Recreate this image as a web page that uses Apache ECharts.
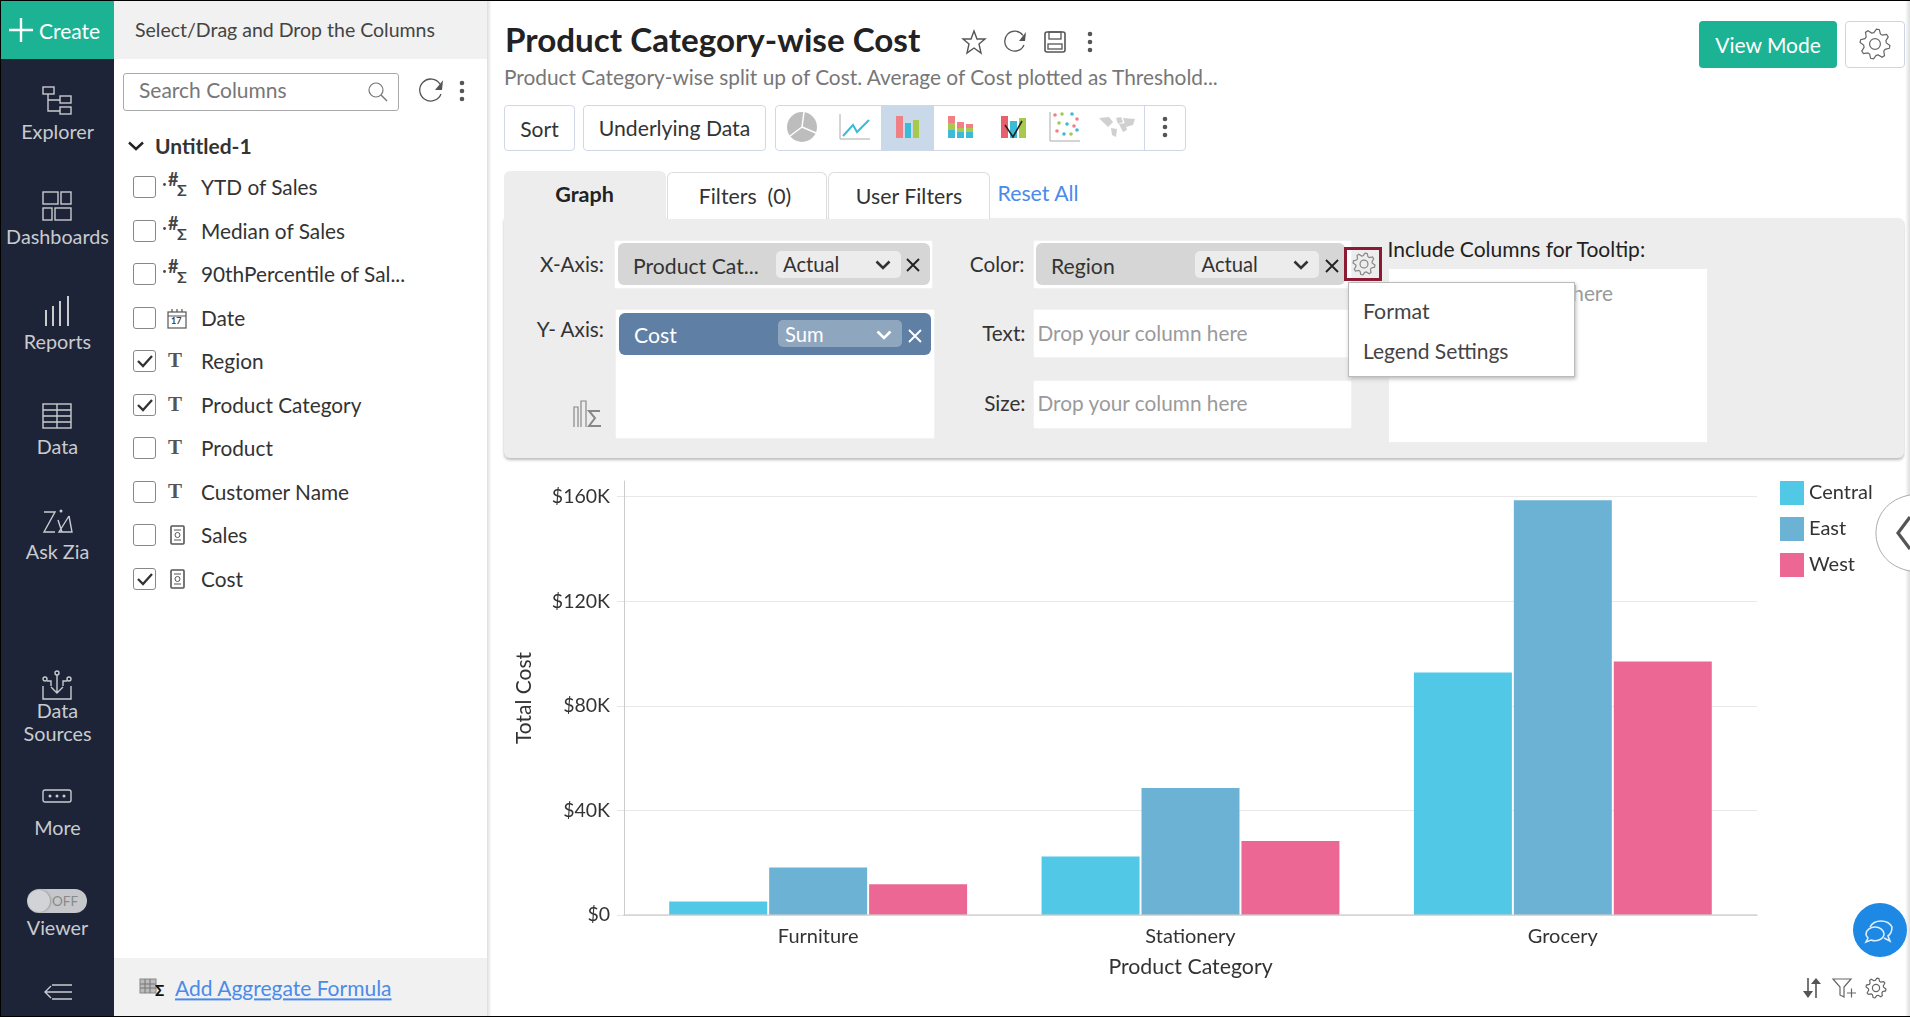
<!DOCTYPE html>
<html><head><meta charset="utf-8">
<script src="https://cdn.jsdelivr.net/npm/echarts@6/dist/echarts.min.js"></script>
<style>
html,body{margin:0;padding:0;width:1910px;height:1017px;overflow:hidden;background:#fff;font-family:Lato,sans-serif}
#ui,#ui2{position:absolute;left:0;top:0;width:1910px;height:1017px;pointer-events:none}
#ui2{z-index:5}
.b{position:absolute;box-sizing:border-box}
.t{position:absolute;white-space:nowrap;transform:translateY(-50%);line-height:1.2}
svg{position:absolute;overflow:visible}
#chart{position:absolute;left:490px;top:460px;width:1420px;height:557px;z-index:2}
</style></head><body>
<div id="ui"></div><div id="chart"></div><div id="ui2"></div>
<script>
// ---- chart data ----
const categories = ['Furniture','Stationery','Grocery'];
const central = [5200,22400,92800];
const east = [18200,48600,158600];
const west = [11800,28300,97000];
const regions = ['Central','East','West'];
const regionColors = ['#50C8E6','#6CB2D5','#EC6793'];
const yTicks = [0,40000,80000,120000,160000];
const yAxisName = 'Total Cost';
const xAxisName = 'Product Category';
// ---- interface text ----
const railItems = [['Explorer',132],['Dashboards',237],['Reports',342],['Data',447],['Ask Zia',552],['More',828],['Viewer',928]];
const columnNames = ['YTD of Sales','Median of Sales','90thPercentile of Sal...','Date','Region','Product Category','Product','Customer Name','Sales','Cost'];
const columnRows = [187,231,274,318,361,405,448,492,535,579];
const columnChecked = [0,0,0,0,1,1,0,0,0,1];
const columnKinds = ['f','f','f','d','T','T','T','T','m','m'];

let layer = document.getElementById('ui');
function box(x,y,w,h,css){const d=document.createElement('div');d.className='b';d.style.cssText=`left:${x}px;top:${y}px;width:${w}px;height:${h}px;`+(css||'');layer.appendChild(d);return d;}
function txt(s,x,y,size,color,css){const d=document.createElement('div');d.className='t';d.textContent=s;d.style.cssText=`left:${x}px;top:${y}px;font-size:${size}px;color:${color};`+(css||'');layer.appendChild(d);return d;}
function mid(s,x,y,size,color,css){return txt(s,x,y,size,color,'transform:translate(-50%,-50%);'+(css||''));}
function rgt(s,x,y,size,color,css){return txt(s,x,y,size,color,'transform:translate(-100%,-50%);'+(css||''));}
function ico(x,y,w,h,inner){const s=document.createElementNS('http://www.w3.org/2000/svg','svg');s.setAttribute('width',w);s.setAttribute('height',h);s.setAttribute('viewBox',`0 0 ${w} ${h}`);s.style.left=(x-w/2)+'px';s.style.top=(y-h/2)+'px';s.innerHTML=inner;layer.appendChild(s);}
function gear(x,y,r,c){let p='';const n=8;for(let i=0;i<n*4;i++){const a=(i+.5)/(n*4)*2*Math.PI,k=(i%4<2)?r:r*.76;p+=(i?'L':'M')+(r+1+k*Math.sin(a)).toFixed(2)+' '+(r+1-k*Math.cos(a)).toFixed(2);}
 ico(x,y,2*r+2,2*r+2,`<path d="${p}Z" fill="none" stroke="${c}" stroke-width="1.2"/><circle cx="${r+1}" cy="${r+1}" r="${r*.36}" fill="none" stroke="${c}" stroke-width="1.2"/>`);}
function chev(x,y,c){ico(x,y,16,10,`<path d="M1.5 1.5L8 8L14.5 1.5" fill="none" stroke="${c}" stroke-width="2.6"/>`);}
function cross(x,y,c){ico(x,y,14,14,`<path d="M1 1L13 13M13 1L1 13" stroke="${c}" stroke-width="1.9" fill="none"/>`);}
function dots(x,y,c){ico(x,y,6,22,`<circle cx="3" cy="3" r="2.3" fill="${c}"/><circle cx="3" cy="11" r="2.3" fill="${c}"/><circle cx="3" cy="19" r="2.3" fill="${c}"/>`);}
function refresh(x,y,r,c){ico(x,y,2*r+4,2*r+4,`<path d="M${2*r} ${r*.55}A${r} ${r} 0 1 0 ${2*r+1} ${r+5}" fill="none" stroke="${c}" stroke-width="1.3"/><path d="M${2*r+3} ${r*.2}L${2*r+2} ${r+1}L${r+6} ${r+1}Z" fill="${c}"/>`);}

// page edges
box(0,0,1910,1,'background:#000;z-index:3');box(0,1016,1910,1,'background:#000;z-index:3');box(0,0,1,1017,'background:#000;z-index:3');
box(1905,1,5,1015,'background:linear-gradient(90deg,#fff,#ddd);z-index:3');
// left rail
box(1,1,113,1016,'background:#1E2437');
box(1,1,113,58,'background:#1BB394');
ico(21,30,24,24,'<path d="M12 0V24M0 12H24" stroke="#fff" stroke-width="2.4"/>');
txt('Create',39,31,21,'#fff');
const G='#C9CBCF';
railItems.forEach(r=>mid(r[0],57.5,r[1],19.8,G));
mid('Data',57.5,711,19.8,G);mid('Sources',57.5,734,19.8,G);
const sk=`fill="none" stroke="${G}" stroke-width="1.4"`;
ico(57,101,30,30,`<rect x="1" y="1" width="11" height="7" ${sk}/><rect x="18" y="10" width="11" height="7" ${sk}/><rect x="18" y="21" width="11" height="7" ${sk}/><path d="M6 8V25H18M6 14H18" ${sk}/>`);
ico(57,206,30,30,`<rect x="1" y="1" width="15" height="12" ${sk}/><rect x="19" y="1" width="10" height="12" ${sk}/><rect x="1" y="17" width="9" height="12" ${sk}/><rect x="13" y="17" width="16" height="12" ${sk}/>`);
ico(57,311,26,30,`<path d="M2 30V14M9 30V10M16 30V5M24 30V0" stroke="${G}" stroke-width="2" fill="none"/>`);
ico(57,416,30,26,`<rect x="1" y="1" width="28" height="24" ${sk}/><path d="M1 7H29M1 13H29M1 19H29M15 1V25" ${sk}/>`);
ico(57,521,30,26,`<path d="M2 4H13L2 24H13M16 12L20 24M27 8L30 24H17L27 8" ${sk}/><circle cx="19" cy="3" r="1.5" fill="${G}"/>`);
ico(57,685,30,30,`<circle cx="15" cy="3" r="2" ${sk}/><circle cx="3" cy="9" r="2" ${sk}/><circle cx="27" cy="9" r="2" ${sk}/><path d="M15 5V22M9 17L15 23L21 17M5 11H9V16M25 11H21V16M1 16V29H29V16" ${sk}/>`);
ico(57,796,30,14,`<rect x="1" y="1" width="28" height="12" rx="2" ${sk}/><circle cx="8" cy="7" r="1.5" fill="${G}"/><circle cx="15" cy="7" r="1.5" fill="${G}"/><circle cx="22" cy="7" r="1.5" fill="${G}"/>`);
box(27,889,60,24,'background:#C6C7CB;border-radius:12px');
box(28,890,22,22,'background:#D2D3D6;border-radius:11px;box-shadow:1px 0 2px #999');
txt('OFF',52,901,13.5,'#8a8a8a');
ico(58,992,28,18,`<path d="M28 2H8M28 9H1M28 16H8M7 3L1 9L7 15" ${sk}/>`);

// column panel
box(114,1,373,58,'background:#F1F1F1');
box(114,958,373,58,'background:#F1F1F1');
box(487,1,4,1015,'background:linear-gradient(90deg,#ddd,#fafafa)');
txt('Select/Drag and Drop the Columns',135,30,19.5,'#444');
box(123,73,276,38,'border:1px solid #aaa;border-radius:3px');
txt('Search Columns',139,90,21,'#777');
ico(378,92,20,20,'<circle cx="8" cy="8" r="7" fill="none" stroke="#777" stroke-width="1.2"/><path d="M13 13L19 19" stroke="#777" stroke-width="1.4"/>');
refresh(431,91,11,'#555');dots(462,91,'#555');
ico(136,146,16,10,'<path d="M1 1.5L8 8L15 1.5" fill="none" stroke="#222" stroke-width="2.4"/>');
txt('Untitled-1',155,146,21,'#333','font-weight:700');
columnNames.forEach((n,i)=>{
 const y=columnRows[i];
 box(133,y-11,23,22,'border:1px solid #888;border-radius:3px;background:#fff');
 if(columnChecked[i]) ico(144.5,y,16,12,'<path d="M1 6L6 11L15 1" fill="none" stroke="#333" stroke-width="2.3"/>');
 const k=columnKinds[i];
 if(k==='T') txt('T',168,y,21,'#555','font-family:"Liberation Serif",serif;font-weight:700');
 if(k==='f') {txt('#',168,y-7,18,'#444','font-weight:700');txt('Σ',177,y+3,16,'#444','font-weight:700');ico(164,y-3,3,3,'<circle cx="1.5" cy="1.5" r="1.4" fill="#444"/>');}
 if(k==='d') {ico(177,y+1,20,20,'<rect x="1" y="3" width="18" height="16" fill="none" stroke="#555" stroke-width="1.2"/><path d="M1 7H19M5 0V3M10 0V3M15 0V3" stroke="#555" stroke-width="1.2"/>');txt('17',171,y+3,9,'#444','font-weight:700');}
 if(k==='m') ico(177,y,15,20,'<rect x="1" y="1" width="13" height="18" rx="1" fill="none" stroke="#555" stroke-width="1.6"/><circle cx="7.5" cy="10" r="2.5" fill="none" stroke="#555"/><path d="M4 5H11M4 15H11" stroke="#555"/>');
 txt(n,201,y,20.8,'#333');
});
ico(153,988,26,18,'<rect x="0" y="0" width="16" height="14" fill="#bbb" stroke="#888"/><path d="M0 5H16M0 9H16M5 0V14M10 0V14" stroke="#777"/>');
txt('Σ',155,990,15,'#111','font-weight:900');
txt('Add Aggregate Formula',175,988,21,'#4A8BEA','text-decoration:underline');

// header
txt('Product Category-wise Cost',505,40,33.2,'#222','font-weight:700');
ico(974,42,24,24,'<path d="M12 1L15 9H23L17 14L19 23L12 18L5 23L7 14L1 9H9Z" fill="none" stroke="#555" stroke-width="1.4"/>');
refresh(1015,42,10,'#555');
ico(1055,42,22,22,'<rect x="1" y="1" width="20" height="20" rx="2" fill="none" stroke="#555" stroke-width="1.6"/><rect x="5" y="1" width="12" height="7" fill="none" stroke="#555" stroke-width="1.3"/><rect x="4" y="13" width="14" height="5" fill="none" stroke="#555" stroke-width="1.3"/>');
dots(1090,42,'#555');
txt('Product Category-wise split up of Cost. Average of Cost plotted as Threshold...',504,76,20.85,'#777');
box(1699,21,138,47,'background:#1BB394;border-radius:4px');
mid('View Mode',1768,45,21,'#fff');
box(1845,21,60,47,'border:1px solid #CDD5E4;border-radius:4px');
gear(1875,44,15,'#666');

// toolbar
const bd='border:1px solid #CFD8E6;border-radius:4px;';
box(504,105,71,46,bd);mid('Sort',539.5,129,21,'#333');
box(583,105,183,46,bd);mid('Underlying Data',674.5,129,21.2,'#333');
box(775,105,411,46,bd);
box(881,106,53,44,'background:#C9D9EA');
box(1144,106,1,44,'background:#CFD8E6');
ico(802,127,30,30,'<circle cx="15" cy="15" r="15" fill="#BDBDBD"/><path d="M15 15L17 0M15 15L29 21M15 15L3 24" stroke="#fff" stroke-width="1.5"/>');
ico(854.5,127,30,26,'<path d="M0 0V25H30" fill="none" stroke="#aaa"/><path d="M3 22L13 11L17 18L29 6" fill="none" stroke="#3CBBD8" stroke-width="2"/>');
ico(908,127,24,22,'<rect x="0" y="0" width="7" height="22" fill="#F07F86"/><rect x="9" y="7" width="6" height="15" fill="#3CBBD8"/><rect x="17" y="4" width="6" height="18" fill="#A8C94E"/>');
ico(960.7,127,25,22,'<rect x="0" y="0" width="7" height="7" fill="#F07F86"/><rect x="0" y="7" width="7" height="7" fill="#A8C94E"/><rect x="0" y="14" width="7" height="8" fill="#3CBBD8"/><rect x="9" y="6" width="7" height="6" fill="#F07F86"/><rect x="9" y="12" width="7" height="4" fill="#A8C94E"/><rect x="9" y="16" width="7" height="6" fill="#3CBBD8"/><rect x="18" y="8" width="7" height="4" fill="#F07F86"/><rect x="18" y="12" width="7" height="4" fill="#A8C94E"/><rect x="18" y="16" width="7" height="6" fill="#3CBBD8"/>');
ico(1013,127,25,22,'<rect x="0" y="0" width="7" height="22" fill="#E8606C"/><rect x="9" y="5" width="7" height="17" fill="#3CBBD8"/><rect x="18" y="2" width="7" height="20" fill="#A8C94E"/><path d="M4 9L12 21L21 5" fill="none" stroke="#222" stroke-width="1.6"/>');
ico(1065,127,30,30,'<path d="M0 0V29H30" fill="none" stroke="#aaa"/>'+[[5,3,'#F07F86'],[12,2,'#A8C94E'],[22,2,'#3CBBD8'],[27,7,'#F07F86'],[9,11,'#A8C94E'],[17,12,'#3CBBD8'],[24,14,'#F07F86'],[7,19,'#F07F86'],[14,22,'#3CBBD8'],[21,22,'#A8C94E'],[27,18,'#3CBBD8']].map(p=>`<circle cx="${p[0]}" cy="${p[1]}" r="1.8" fill="${p[2]}"/>`).join(''));
ico(1117,127,36,20,'<path d="M0 1L10 0L14 5L9 10L7 8ZM12 11L18 12L17 20L13 18ZM17 1L22 0L24 5L19 7ZM20 7L26 6L28 13L24 15ZM24 1L36 2L34 8L27 10Z" fill="#D0D0D0"/>');
dots(1165,127,'#555');

// tabs + panel
box(504,218,1400,240,'background:#EDEDED;border-radius:0 6px 6px 6px;box-shadow:0 2px 3px #bbb');
box(504,171,162,48,'background:#EDEDED;border-radius:6px 6px 0 0');
box(667,172,160,47,'background:#fff;border:1px solid #DDD;border-bottom:none;border-radius:6px 6px 0 0');
box(828,172,162,47,'background:#fff;border:1px solid #DDD;border-bottom:none;border-radius:6px 6px 0 0');
mid('Graph',584.5,195,21.5,'#222','font-weight:700');
mid('Filters  (0)',745,197,21.3,'#333','white-space:pre');
mid('User Filters',909,197,21.3,'#333');
txt('Reset All',997.5,194,21.3,'#4A8BEA');

const W='background:#fff;border:1px solid #F2F2F2;border-radius:2px;';
rgt('X-Axis:',604,264,20.7,'#333');
box(614,240,319,49,W);
box(618,243,312,42,'background:#D6D6D6;border-radius:6px');
txt('Product Cat...',633,267,21.2,'#333');
box(776,251,125,27,'background:#ECECEC;border-radius:5px');
txt('Actual',783,264,20.2,'#333');chev(883,265,'#333');cross(913,265,'#222');

rgt('Y- Axis:',604,329,20.7,'#333');
box(615,309,320,130,W);
box(619,313,312,42,'background:#5F7FA5;border-radius:6px');
txt('Cost',634,336,21.2,'#fff');
box(778,320,124,27,'background:#8FA6BF;border-radius:5px');
txt('Sum',785,334,20.2,'#fff');chev(884,335,'#fff');cross(914.5,336,'#fff');
ico(587,413,30,28,'<path d="M2 28V8H6V28M9 28V2H14V28" fill="none" stroke="#888" stroke-width="1.2"/><path d="M28 12H17L23 19L17 27H29" fill="none" stroke="#888" stroke-width="2"/>');

rgt('Color:',1024.5,264,20.7,'#333');
box(1033,240,319,49,W);
box(1036,243,309,42,'background:#D6D6D6;border-radius:6px');
txt('Region',1051,267,21.2,'#333');
box(1195,251,124,27,'background:#ECECEC;border-radius:5px');
txt('Actual',1201.5,264,20.2,'#333');chev(1301,265,'#333');cross(1331.5,266,'#222');
rgt('Text:',1025.5,333,20.7,'#333');
box(1033,309,319,49,W);txt('Drop your column here',1037.5,333,20.8,'#9a9a9a');
rgt('Size:',1025.5,403,20.7,'#333');
box(1033,380,319,49,W);txt('Drop your column here',1037.5,403,20.8,'#9a9a9a');
txt('Include Columns for Tooltip:',1387.5,249,21,'#222');
box(1387.5,268,320,175,'background:#fff;border:1px solid #EEE');
rgt('Drop your column here',1613,293,20.8,'#9a9a9a');

// popup and outlined gear go above the panel
box(1344,246.5,38,34.5,'border:3px solid #8B1A32');
gear(1363.5,264,11,'#888');
box(1347.5,282,227,95,'background:#fff;border:1px solid #BBB;box-shadow:1px 2px 4px #bbb');
txt('Format',1363,312,21.3,'#444');
txt('Legend Settings',1363,350.5,21,'#444');

// overlays beside the chart
layer=document.getElementById('ui2');
ico(1893,533,34,80,'<path d="M34 2C12 6 0 22 0 40C0 58 12 74 34 78" fill="#fff" stroke="#aaa"/><path d="M34 24L22 40L34 56" fill="none" stroke="#555" stroke-width="3.2"/>');
ico(1880,930,54,54,'<circle cx="27" cy="27" r="27" fill="#1E88E5"/><path d="M17 24A12 10 0 0 1 39 24Q39 30 35 33L37 38L31 35" fill="none" stroke="#DDEEFB" stroke-width="1.6"/><path d="M13 31A9 7 0 0 1 31 31A9 7 0 0 1 18 37L13 39L15 35Q13 33 13 31" fill="#1E88E5" stroke="#DDEEFB" stroke-width="1.6"/>');
ico(1812,988,20,20,'<path d="M6 0V19M14 20V3" fill="none" stroke="#555" stroke-width="1.6"/><path d="M1 13H11L6 20ZM9 6H19L14 0Z" fill="#555"/>');
ico(1844,988,24,20,'<path d="M1 1H19L12 9V19L8 17V9Z" fill="none" stroke="#666" stroke-width="1.2"/><path d="M15 15H24M19.5 10.5V19.5" stroke="#666" stroke-width="1.2"/>');
gear(1876,988,10,'#666');

// chart
const ink='#333',lab={fontFamily:'Lato',fontSize:20,color:ink};
const chart=echarts.init(document.getElementById('chart'),null,{renderer:'canvas'});
const allValues=[central,east,west];
const yTop=166000;
const yTickLabel=v=>v===0?'$0':'$'+(v/1000)+'K';
chart.setOption({
 animation:false,backgroundColor:'transparent',
 legend:{show:true,orient:'vertical',left:1285,top:16,itemWidth:24,itemHeight:24,itemGap:12,icon:'rect',data:regions,
  textStyle:{fontFamily:'Lato',fontSize:20,color:ink}},
 grid:[
  {left:142,top:21,width:1117,height:434,containLabel:false},
  {left:134,top:21,width:1133,height:434,containLabel:false}
 ],
 xAxis:[
  {type:'category',gridIndex:0,data:categories,axisLine:{show:false},axisTick:{show:false},
   axisLabel:{...lab,margin:12},
   name:xAxisName,nameLocation:'middle',nameGap:42,nameTextStyle:{...lab,fontSize:21.3}},
  {type:'category',gridIndex:1,data:categories,z:3,axisLine:{lineStyle:{color:'rgba(205,205,205,0.85)',width:1.5}},axisTick:{show:false},axisLabel:{show:false}}
 ],
 yAxis:[
  {type:'value',gridIndex:0,min:0,max:yTop,show:false,splitLine:{show:false}},
  {type:'value',gridIndex:1,min:0,max:yTop,interval:40000,
   axisLine:{show:true,lineStyle:{color:'#CCCCCC'}},
   axisTick:{show:true,length:7,lineStyle:{color:'#E6E6E6'},customValues:yTicks},
   splitLine:{show:true,lineStyle:{color:'#E8E8E8',width:1}},
   axisLabel:{...lab,fontSize:19.5,margin:14,customValues:yTicks,formatter:yTickLabel},
   name:yAxisName,nameLocation:'middle',nameGap:89,nameRotate:90,nameTextStyle:{...lab,fontSize:21}}
 ],
 series:regions.map((name,i)=>({name,type:'bar',xAxisIndex:0,yAxisIndex:0,data:allValues[i],barGap:'2%',barCategoryGap:'20%',
  itemStyle:{color:regionColors[i]},emphasis:{disabled:true}}))
});
</script>
</body></html>
